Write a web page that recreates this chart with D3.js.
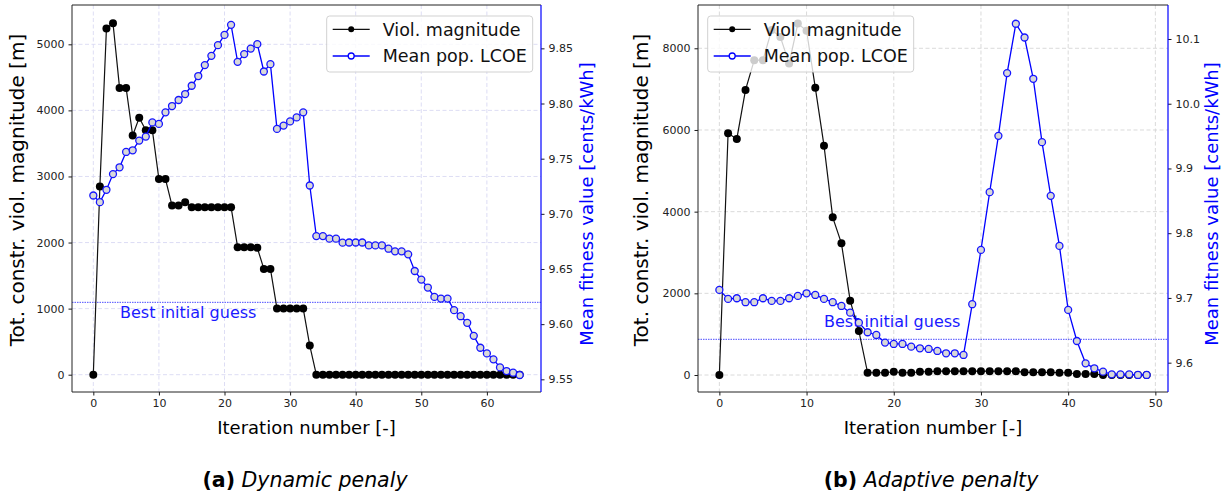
<!DOCTYPE html>
<html><head><meta charset="utf-8">
<script src="https://cdn.jsdelivr.net/npm/d3@7"></script>
<style>
body{margin:0;background:#fff}
svg{display:block}
text{font-family:"DejaVu Sans",sans-serif}
</style>
</head><body>
<svg id="chart" width="1231" height="497"></svg>
<script>
// ---------------- data ----------------
// (a) Dynamic penalty
const violA = [0,2850,5240,5320,4340,4340,3620,3890,3700,3700,2960,2960,2560,2560,2610,
  2535,2535,2535,2535,2535,2535,2535,1930,1930,1930,1920,1600,1600,1000,1000,1000,1000,1000,440,
  0,0,0,0,0,0,0,0,0,0,0,0,0,0,0,0,0,0,0,0,0,0,0,0,0,0,0,0,0,0,0,0];
const lcoeA = [9.7166,9.7106,9.7218,9.7360,9.7422,9.7561,9.7576,9.7664,9.7700,9.7829,9.7815,
  9.7920,9.7977,9.8032,9.8086,9.8161,9.8249,9.8348,9.8432,9.8529,9.8622,9.8713,9.8378,9.8448,
  9.8498,9.8538,9.8290,9.8357,9.7770,9.7800,9.7838,9.7874,9.7920,9.7257,9.6798,9.6798,9.6775,
  9.6775,9.6739,9.6740,9.6740,9.6740,9.6714,9.6714,9.6714,9.6684,9.6660,9.6660,9.6633,9.6482,
  9.6404,9.6332,9.6247,9.6232,9.6232,9.6127,9.6072,9.6012,9.5894,9.5786,9.5735,9.5681,9.5608,
  9.5575,9.5560,9.5539];
const guessA = 1095;
// (b) Adaptive penalty
const violB = [0,5920,5780,6980,7710,7710,8450,8275,7630,8605,8430,7035,5615,3860,3225,1820,1077,
  55,55,55,80,55,55,80,80,95,95,95,95,95,95,95,95,95,95,65,65,65,65,55,55,25,25,25,0,0,0,0,0,0];
const lcoeB = [9.7124,9.6985,9.6995,9.6934,9.6934,9.6995,9.6954,9.6954,9.6995,9.7031,9.7072,
  9.7046,9.6985,9.6934,9.6876,9.6773,9.6618,9.6470,9.6428,9.6310,9.6289,9.6289,9.6247,9.6222,
  9.6212,9.6181,9.6145,9.6145,9.6119,9.6903,9.7742,9.8634,9.9504,10.0473,10.1235,10.1023,
  10.0385,9.9406,9.8577,9.7804,9.6815,9.6335,9.5990,9.5913,9.5861,9.5820,9.5820,9.5820,
  9.5810,9.5810];
const guessB = 874;

// tick values
const xTicksA = [0,10,20,30,40,50,60];
const yLeftTicksA = [0,1000,2000,3000,4000,5000];
const yRightTicksA = [9.55,9.60,9.65,9.70,9.75,9.80,9.85];
const xTicksB = [0,10,20,30,40,50];
const yLeftTicksB = [0,2000,4000,6000,8000];
const yRightTicksB = [9.6,9.7,9.8,9.9,10.0,10.1];

// texts
const seriesNames = ["Viol. magnitude","Mean pop. LCOE"];
const xLabel = "Iteration number [-]";
const yLeftLabel = "Tot. constr. viol. magnitude [m]";
const yRightLabel = "Mean fitness value [cents/kWh]";
const guessLabel = "Best initial guess";
const captionTags = ["(a)","(b)"];
const captionTitles = ["Dynamic penaly","Adaptive penalty"];

// ---------------- layout ----------------
const panels = [
  {viol:violA, lcoe:lcoeA, guess:guessA, xTicks:xTicksA, yLT:yLeftTicksA, yRT:yRightTicksA,
   rFmt:d3.format(".2f"), L:72, R:541, T:5, B:392, xDom:[-3.25,68.25], yLDom:[-262,5595],
   yRDom:[9.5385,9.8893], grid:"#d9d9f3", legX:326.7, guessTx:120, guessTy:318,
   ylabX:24, yrlabX:593, capX:305, tag:captionTags[0], title:captionTitles[0]},
  {viol:violB, lcoe:lcoeB, guess:guessB, xTicks:xTicksB, yLT:yLeftTicksB, yRT:yRightTicksB,
   rFmt:d3.format(".1f"), L:698, R:1168, T:5, B:392, xDom:[-2.45,51.45], yLDom:[-416,9060],
   yRDom:[9.5547,10.1525], grid:"#d6d6d6", legX:707.7, guessTx:824, guessTy:327,
   ylabX:648, yrlabX:1218, capX:931, tag:captionTags[1], title:captionTitles[1]}
];

const svg = d3.select("#chart");

function label(parent, x, y, str, size, opts={}) {
  const g = parent.append("g")
    .attr("transform", `translate(${x},${y})` + (opts.rot ? " rotate(-90)" : ""));
  const t = g.append("text")
    .attr("text-anchor", opts.anchor || "middle")
    .attr("font-size", size)
    .attr("fill", opts.fill || "#000");
  if (opts.dy) t.attr("dy", opts.dy);
  t.text(str);
  return t;
}

panels.forEach(p => {
  const x = d3.scaleLinear().domain(p.xDom).range([p.L, p.R]);
  const yL = d3.scaleLinear().domain(p.yLDom).range([p.B, p.T]);
  const yR = d3.scaleLinear().domain(p.yRDom).range([p.B, p.T]);
  const g = svg.append("g");

  // grid
  g.selectAll(".gx").data(p.xTicks).join("line")
    .attr("x1", d => x(d)).attr("x2", d => x(d)).attr("y1", p.T).attr("y2", p.B)
    .attr("stroke", p.grid).attr("stroke-width", 0.9).attr("stroke-dasharray", "4,2.5");
  g.selectAll(".gy").data(p.yLT).join("line")
    .attr("y1", d => yL(d)).attr("y2", d => yL(d)).attr("x1", p.L).attr("x2", p.R)
    .attr("stroke", p.grid).attr("stroke-width", 0.9).attr("stroke-dasharray", "4,2.5");

  // best initial guess
  g.append("line").attr("x1", p.L).attr("x2", p.R)
    .attr("y1", yL(p.guess)).attr("y2", yL(p.guess))
    .attr("stroke", "#2020ff").attr("stroke-width", 0.8).attr("stroke-dasharray", "1.5,1");
  label(g, p.guessTx, p.guessTy, guessLabel, 16, {anchor:"start", fill:"#1a1aff"});

  // violation series
  const lineL = d3.line().x((d,i) => x(i)).y(d => yL(d));
  g.append("path").datum(p.viol).attr("d", lineL)
    .attr("fill","none").attr("stroke","#111").attr("stroke-width",1.2);
  g.selectAll(".mv").data(p.viol).join("circle")
    .attr("cx",(d,i)=>x(i)).attr("cy",d=>yL(d)).attr("r",4).attr("fill","#000");

  // LCOE series
  const lineR = d3.line().x((d,i) => x(i)).y(d => yR(d));
  g.append("path").datum(p.lcoe).attr("d", lineR)
    .attr("fill","none").attr("stroke","#0000ff").attr("stroke-width",1.3);
  g.selectAll(".mr").data(p.lcoe).join("circle")
    .attr("cx",(d,i)=>x(i)).attr("cy",d=>yR(d)).attr("r",3.5)
    .attr("fill","#d8d8d8").attr("stroke","#1515ff").attr("stroke-width",1.3);

  // axes
  const ax = g.append("g").attr("transform",`translate(0,${p.B})`)
    .call(d3.axisBottom(x).tickValues(p.xTicks).tickSize(3.5).tickPadding(4).tickFormat(d3.format("d")));
  const ayl = g.append("g").attr("transform",`translate(${p.L},0)`)
    .call(d3.axisLeft(yL).tickValues(p.yLT).tickSize(3.5).tickPadding(4).tickFormat(d3.format("d")));
  const ayr = g.append("g").attr("transform",`translate(${p.R},0)`)
    .call(d3.axisRight(yR).tickValues(p.yRT).tickSize(3.5).tickPadding(4).tickFormat(p.rFmt));
  [ax, ayl, ayr].forEach(a => {
    a.select(".domain").remove();
    a.selectAll(".tick line").attr("stroke","#000").attr("stroke-width",0.9);
    a.selectAll(".tick text").attr("font-size",11).attr("fill","#222")
      .attr("font-family","DejaVu Sans");
  });

  // spines
  g.append("line").attr("x1",p.L).attr("x2",p.R).attr("y1",p.T).attr("y2",p.T).attr("stroke","#222").attr("stroke-width",1);
  g.append("line").attr("x1",p.L).attr("x2",p.R).attr("y1",p.B).attr("y2",p.B).attr("stroke","#222").attr("stroke-width",1);
  g.append("line").attr("x1",p.L).attr("x2",p.L).attr("y1",p.T).attr("y2",p.B).attr("stroke","#222").attr("stroke-width",1);
  g.append("line").attr("x1",p.R).attr("x2",p.R).attr("y1",p.T).attr("y2",p.B).attr("stroke","#0000ff").attr("stroke-width",1.2);

  // axis labels
  label(g, (p.L+p.R)/2, 434, xLabel, 18);
  label(g, p.ylabX, 190, yLeftLabel, 20, {rot:true});
  label(g, p.yrlabX, 204, yRightLabel, 18, {rot:true, fill:"#0000ff"});

  // legend
  const lg = g.append("g").attr("transform",`translate(${p.legX},16)`);
  lg.append("rect").attr("width",206).attr("height",56).attr("rx",3)
    .attr("fill","#fff").attr("fill-opacity",0.8).attr("stroke","#ccc").attr("stroke-width",0.9);
  [0,1].forEach(k => {
    const cy = k === 0 ? 13.3 : 40;
    lg.append("line").attr("x1",6).attr("x2",43).attr("y1",cy).attr("y2",cy)
      .attr("stroke", k===0 ? "#111" : "#0000ff").attr("stroke-width",1.3);
    lg.append("circle").attr("cx",24.5).attr("cy",cy).attr("r",3)
      .attr("fill",k===0?"#000":"#fff").attr("stroke",k===0?"none":"#0000ff").attr("stroke-width",1.3);
    label(lg, 56, cy, seriesNames[k], 17.5, {anchor:"start", dy:"0.36em", fill:"#111"});
  });

  // caption
  const cg = svg.append("g").attr("transform",`translate(${p.capX},487)`);
  const ct = cg.append("text").attr("text-anchor","middle").attr("font-size",20.5).attr("fill","#000");
  ct.append("tspan").attr("font-weight","bold").text(p.tag);
  ct.append("tspan").attr("font-style","italic").text(" " + p.title);
});
</script>
</body></html>
